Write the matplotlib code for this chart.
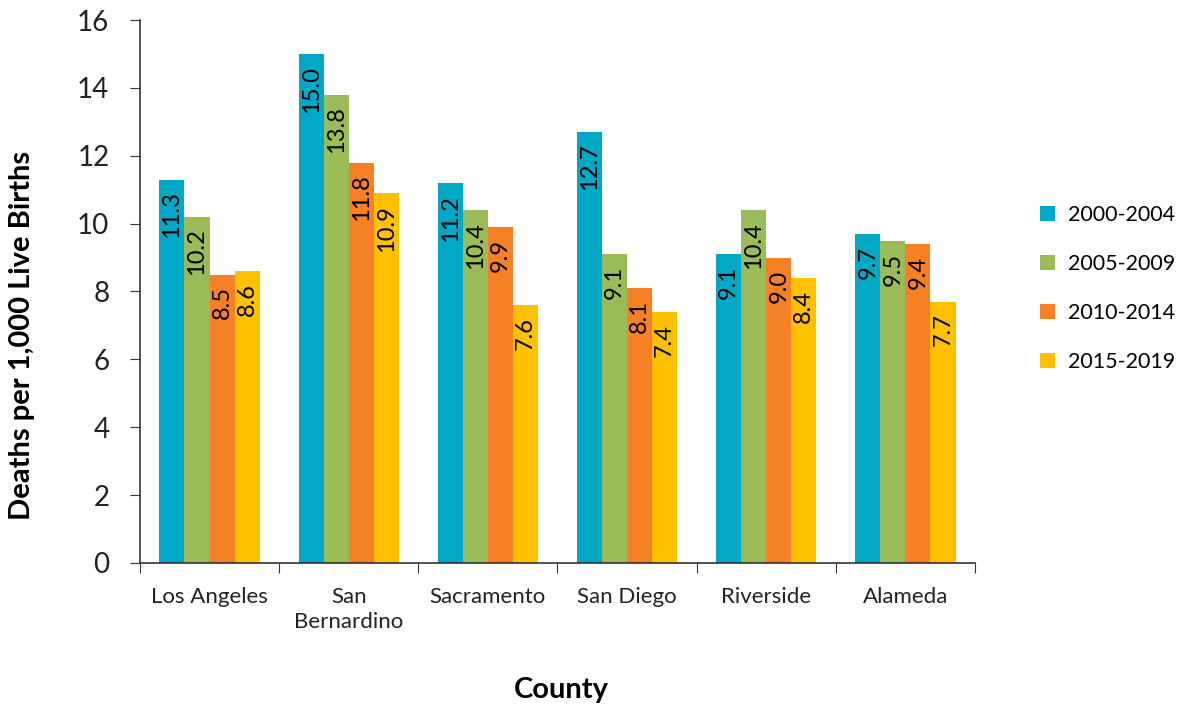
import numpy as np
import matplotlib.pyplot as plt

counties = ['Los Angeles', 'San\nBernardino', 'Sacramento', 'San Diego', 'Riverside', 'Alameda']
periods = ['2000-2004', '2005-2009', '2010-2014', '2015-2019']
rate_2000 = [11.3, 15.0, 11.2, 12.7, 9.1, 9.7]
rate_2005 = [10.2, 13.8, 10.4, 9.1, 10.4, 9.5]
rate_2010 = [8.5, 11.8, 9.9, 8.1, 9.0, 9.4]
rate_2015 = [8.6, 10.9, 7.6, 7.4, 8.4, 7.7]
colors = ['#00A8C6', '#9BBB59', '#F58025', '#FFC000']

plt.rcParams['font.family'] = ['Lato', 'DejaVu Sans']

fig = plt.figure(figsize=(11.83, 7.07), dpi=100)
ax = fig.add_axes([0.1183, 0.2037, 0.7059, 0.768])

x = np.arange(len(counties))
w = 0.18
series = [rate_2000, rate_2005, rate_2010, rate_2015]
for i, vals in enumerate(series):
    pos = x + (i - 1.5) * w
    bars = ax.bar(pos, vals, w, color=colors[i], label=periods[i])
    # value labels sit inside the top of each bar
    for b, v in zip(bars, vals):
        ax.text(b.get_x() + b.get_width() / 2, v - 0.35, f'{v:.1f}',
                rotation=90, ha='center', va='top', fontsize=17, color='black')

ax.set_ylim(0, 16)
ax.set_yticks(range(0, 17, 2))
ax.set_xlim(-0.5, 5.5)
# ticks between groups, labels centred under groups
ax.set_xticks(np.arange(-0.5, 6, 1))
ax.set_xticklabels([])
ax.set_xticks(x, minor=True)
ax.set_xticklabels(counties, minor=True, fontsize=16, color='#222222', va='top',
                   linespacing=1.35)
ax.tick_params(axis='x', which='minor', length=0, pad=17)
ax.tick_params(axis='x', which='major', length=7, direction='out', color='#333333')
ax.tick_params(axis='y', length=7, direction='out', labelsize=20, color='#333333',
               labelcolor='#222222', pad=15)
for s in ['top', 'right']:
    ax.spines[s].set_visible(False)
for s in ['left', 'bottom']:
    ax.spines[s].set_color('#333333')
    ax.spines[s].set_linewidth(1.2)

fig.text(22 / 1183, 1 - 335 / 707, 'Deaths per 1,000 Live Births', rotation=90,
         ha='center', va='center', fontsize=21, fontweight='bold')
fig.text(561 / 1183, 1 - 690 / 707, 'County', ha='center', va='center',
         fontsize=21, fontweight='bold')

ax.legend(loc='center left', bbox_to_anchor=(1.055, 0.505), frameon=False, fontsize=15.5,
          handlelength=0.7, handleheight=0.7, labelspacing=1.35, handletextpad=0.6)

fig.savefig('out.png', dpi=100)
